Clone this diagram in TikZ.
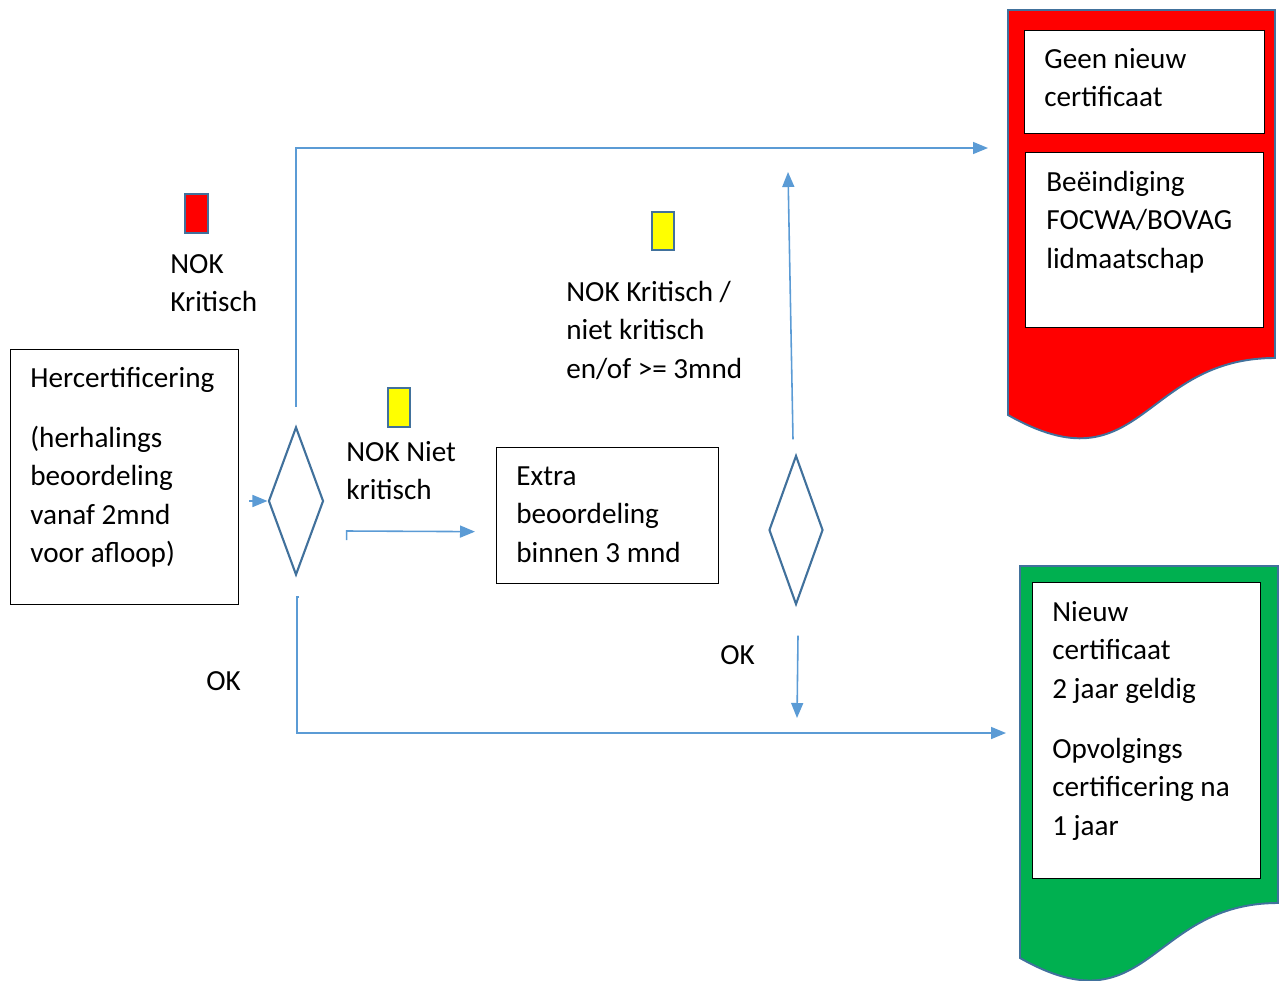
\documentclass[tikz,border=0pt]{standalone}
\usepackage{fontspec}
\setmainfont{Carlito}
\usetikzlibrary{shapes.geometric,arrows.meta}

\definecolor{lijnblauw}{HTML}{5B9BD5}
\definecolor{randblauw}{HTML}{41719C}
\definecolor{nokrood}{HTML}{FF0000}
\definecolor{nokgeel}{HTML}{FFFF00}
\definecolor{okgroen}{HTML}{00B050}

\tikzset{
  kader/.style={draw=black, line width=0.75pt, fill=white, anchor=north west, inner sep=0pt},
  tekst/.style={anchor=north west, inner sep=0pt, align=left, font=\fontsize{16.6}{21.9}\selectfont},
  keuze/.style={diamond, draw=randblauw, line width=1.2pt, inner sep=0pt},
  vlag/.style={draw=randblauw, line width=0.9pt, anchor=north west, inner sep=0pt},
  pijl/.style={draw=lijnblauw, line width=0.9pt, -{Triangle[length=0.3cm,width=0.24cm]}},
  document/.style={draw=randblauw, line width=1.1pt},
}

\begin{document}
\begin{tikzpicture}[x=0.02cm, y=-0.02cm]
\useasboundingbox (0,0) rectangle (1280,980);

\draw[document, fill=nokrood] (1008,10) -- (1008,415) .. controls (1141.5,490.6) and (1141.5,358) .. (1275,358) -- (1275,10) -- cycle;
\draw[document, fill=okgroen] (1020,566) -- (1020,958) .. controls (1149,1031) and (1149,903) .. (1278,903) -- (1278,566) -- cycle;
\coordinate (rood) at (1008,148);
\coordinate (groen) at (1020,733);
\coordinate (omhoog) at (788,172);
\coordinate (omlaag) at (797,718);

\node[kader, minimum width=4.56cm, minimum height=5.1cm] (herc) at (10,349) {};
\node[kader, minimum width=4.44cm, minimum height=2.72cm] (extra) at (496,447) {};
\node[kader, minimum width=4.8cm, minimum height=2.06cm] (geen) at (1024,30) {};
\node[kader, minimum width=4.76cm, minimum height=3.5cm] (beeind) at (1025,152) {};
\node[kader, minimum width=4.56cm, minimum height=5.92cm] (nieuw) at (1032,582) {};

\node[keuze, minimum width=1.1cm, minimum height=2.96cm] (d1) at (296,501) {};
\node[keuze, minimum width=1.08cm, minimum height=2.98cm] (d2) at (796,530) {};

\node[vlag, fill=nokrood, minimum width=0.46cm, minimum height=0.78cm] (vrood) at (184,193) {};
\node[vlag, fill=nokgeel, minimum width=0.44cm, minimum height=0.78cm] (vgeel1) at (387,387) {};
\node[vlag, fill=nokgeel, minimum width=0.44cm, minimum height=0.76cm] (vgeel2) at (651,211) {};

\node[tekst] (herctxt) at (30,360) {\strut Hercertificering\\[0.43cm](herhalings\\beoordeling\\vanaf 2mnd\\voor afloop)};
\node[tekst] (nokkrit) at (170,246) {\strut NOK\\Kritisch};
\node[tekst] (noknietkrit) at (346,434) {\strut NOK Niet\\kritisch};
\node[tekst] (extratxt) at (516,458) {\strut Extra\\beoordeling\\binnen 3 mnd};
\node[tekst] (nokmix) at (566,274) {\strut NOK Kritisch /\\niet kritisch\\en/of >= 3mnd};
\node[tekst] (ok1) at (206,663) {\strut OK};
\node[tekst] (ok2) at (720,637) {\strut OK};
\node[tekst] (geentxt) at (1044,41) {\strut Geen nieuw\\certificaat};
\node[tekst] (beeindtxt) at (1046,164) {\strut Beëindiging\\FOCWA/BOVAG\\lidmaatschap};
\node[tekst] (nieuwtxt) at (1052,594) {\strut Nieuw\\certificaat\\2 jaar geldig\\[0.43cm]Opvolgings\\certificering na\\1 jaar};

\draw[pijl] ([xshift=0.2cm]herc.east |- d1.west) -- (d1.west);
\draw[pijl, shorten <=0.38cm, shorten >=0.4cm] (d1.north) |- (rood);
\draw[pijl] ([shift={(22,39)}]d1.east) -- ++(0,-9) -- ([shift={(-21,16)}]extra.west);
\draw[pijl, shorten >=0.28cm] ([shift={(3,21)}]d1.south) -- ++(-2,0) |- (groen);
\draw[pijl] ([shift={(-3,-15)}]d2.north) -- (omhoog);
\draw[pijl] ([shift={(2,30)}]d2.south) -- (omlaag);
\end{tikzpicture}
\end{document}
